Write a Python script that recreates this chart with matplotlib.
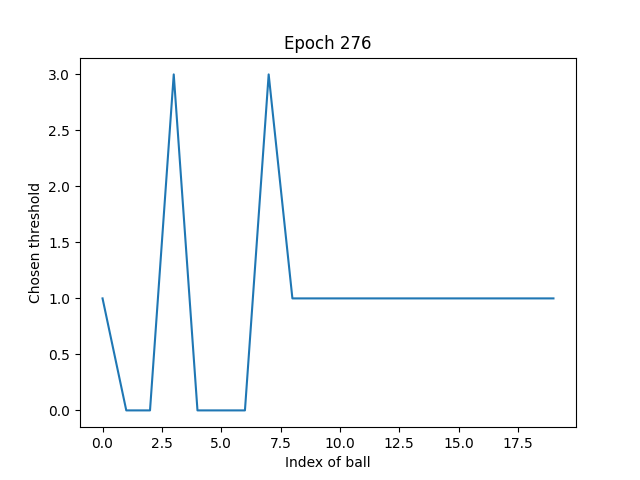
import matplotlib
matplotlib.use('Agg')
import matplotlib.pyplot as plt

ball_index = list(range(20))
threshold = [1, 0, 0, 3, 0, 0, 0, 3, 1, 1, 1, 1, 1, 1, 1, 1, 1, 1, 1, 1]

fig, ax = plt.subplots(figsize=(6.4, 4.8), dpi=100)
ax.plot(ball_index, threshold)
ax.set_title('Epoch 276')
ax.set_xlabel('Index of ball')
ax.set_ylabel('Chosen threshold')
fig.savefig('out.png')
